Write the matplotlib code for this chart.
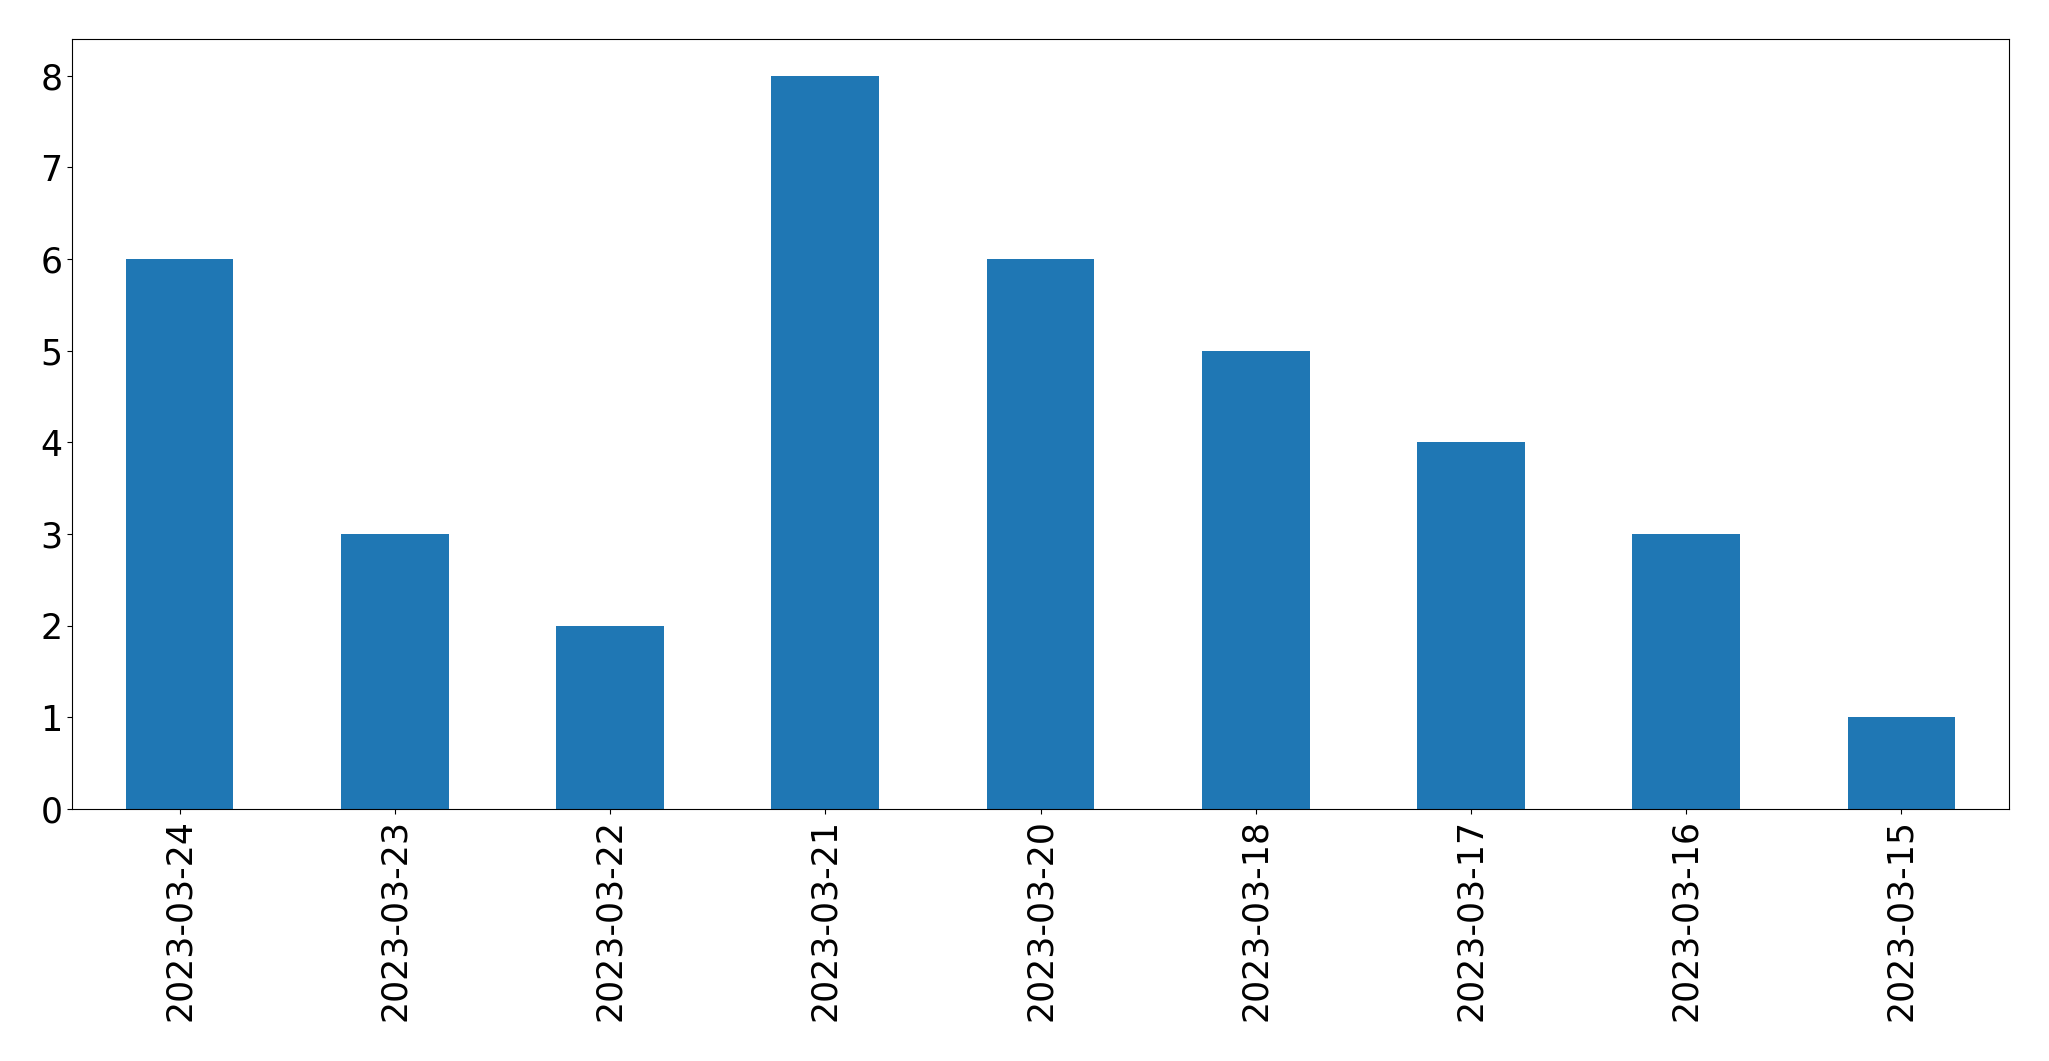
import matplotlib
matplotlib.use("Agg")
import matplotlib.pyplot as plt

dates = ["2023-03-24", "2023-03-23", "2023-03-22", "2023-03-21", "2023-03-20",
         "2023-03-18", "2023-03-17", "2023-03-16", "2023-03-15"]
counts = [6, 3, 2, 8, 6, 5, 4, 3, 1]

W, H = 2049, 1061
fig = plt.figure(figsize=(W / 100, H / 100), dpi=100)
ax = fig.add_axes([72 / W, 1 - 809 / H, (2009 - 72) / W, (809 - 39) / H])
x = list(range(len(dates)))
ax.bar(x, counts, width=0.5, color="#1f77b4")
ax.set_xlim(-0.5, len(dates) - 0.5)
ax.set_ylim(0, 8.4)
ax.set_xticks(x)
ax.set_xticklabels(dates, rotation=90, fontsize=25)
ax.tick_params(axis="y", labelsize=25)
fig.savefig("out.png", dpi=100)
